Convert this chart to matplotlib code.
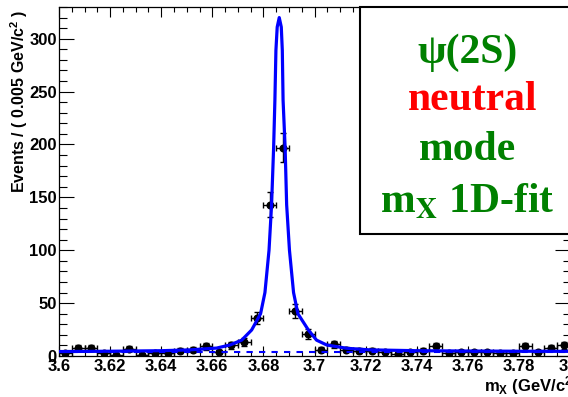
import matplotlib
matplotlib.use('Agg')
import matplotlib.pyplot as plt
from matplotlib.patches import Rectangle
from matplotlib.ticker import MultipleLocator, FixedLocator, FixedFormatter

plt.rcParams['font.family'] = ['Liberation Sans', 'DejaVu Sans']
plt.rcParams['font.weight'] = 'bold'
plt.rcParams['mathtext.fontset'] = 'custom'
plt.rcParams['mathtext.rm'] = 'Liberation Sans:bold'
plt.rcParams['mathtext.it'] = 'Liberation Sans:italic:bold'
plt.rcParams['mathtext.bf'] = 'Liberation Sans:bold'

# ---- data ----
bin_centers = [3.6025, 3.6075, 3.6125, 3.6175, 3.6225, 3.6275, 3.6325, 3.6375,
               3.6425, 3.6475, 3.6525, 3.6575, 3.6625, 3.6675, 3.6725, 3.6775,
               3.6825, 3.6875, 3.6925, 3.6975, 3.7025, 3.7075, 3.7125, 3.7175,
               3.7225, 3.7275, 3.7325, 3.7375, 3.7425, 3.7475, 3.7525, 3.7575,
               3.7625, 3.7675, 3.7725, 3.7775, 3.7825, 3.7875, 3.7925, 3.7975]
counts = [3, 8, 8, 3, 1, 7, 1, 3,
          3, 5, 6, 9, 4, 10, 13, 36,
          143, 197, 43, 21, 6, 11, 6, 5,
          5, 4, 2, 4, 5, 9, 3, 4,
          4, 4, 3, 3, 9, 4, 8, 10]
count_err = [1.7, 2.8, 2.8, 1.7, 1.0, 2.6, 1.0, 1.7,
             1.7, 2.2, 2.4, 3.0, 2.0, 3.2, 3.6, 6.0,
             12.0, 14.0, 6.6, 4.6, 2.4, 3.3, 2.4, 2.2,
             2.2, 2.0, 1.4, 2.0, 2.2, 3.0, 1.7, 2.0,
             2.0, 2.0, 1.7, 1.7, 3.0, 2.0, 2.8, 3.2]
half_bin = 0.0025

# fit curve (signal + background)
fit_x = [3.600, 3.620, 3.640, 3.6513, 3.6617, 3.6669, 3.6715, 3.6754, 3.6789,
         3.6806, 3.6822, 3.6832, 3.6840, 3.6845, 3.6849, 3.6854, 3.6862,
         3.6870, 3.6874, 3.6877, 3.6885, 3.6891, 3.6902, 3.6918, 3.6935,
         3.6976, 3.7008, 3.7048, 3.7126, 3.7217, 3.740, 3.760, 3.780, 3.800]
fit_y = [4.2, 4.5, 5.0, 5.8, 7.5, 10.4, 15, 24.6, 40,
         60, 100, 143, 197, 242, 289, 311, 320,
         311, 289, 242, 197, 143, 100, 60, 40,
         24.6, 15, 10.4, 7.3, 5.8, 5.0, 4.7, 4.5, 4.4]
bkg_x = [3.6, 3.8]
bkg_y = [3.8, 3.8]

x_ticks = [3.6, 3.62, 3.64, 3.66, 3.68, 3.7, 3.72, 3.74, 3.76, 3.78, 3.8]
x_tick_labels = ['3.6', '3.62', '3.64', '3.66', '3.68', '3.7', '3.72', '3.74',
                 '3.76', '3.78', '3.8']
y_ticks = [0, 50, 100, 150, 200, 250, 300]
y_tick_labels = ['0', '50', '100', '150', '200', '250', '300']

box_lines = ['\u03c8(2S)', 'neutral', 'mode', r'm$_{\mathbf{X}}$ 1D-fit']
box_colors = ['#008000', '#ff0000', '#008000', '#008000']

# ---- figure ----
fig = plt.figure(figsize=(5.68, 3.97), dpi=100)
ax = fig.add_axes([59 / 568, 41 / 397, 511 / 568, 349 / 397])

ax.errorbar(bin_centers, counts, xerr=half_bin, yerr=count_err, fmt='o',
            color='black', ms=4.8, elinewidth=1, capsize=2, capthick=1, zorder=3)
ax.plot(fit_x, fit_y, color='#0000ff', lw=2.3, zorder=4)
ax.plot(bkg_x, bkg_y, color='#0000ff', lw=1.5, ls=(0, (3, 3)), zorder=4)

ax.set_xlim(3.6, 3.8)
ax.set_ylim(0, 330)
ax.xaxis.set_major_locator(FixedLocator(x_ticks))
ax.xaxis.set_major_formatter(FixedFormatter(x_tick_labels))
ax.yaxis.set_major_locator(FixedLocator(y_ticks))
ax.yaxis.set_major_formatter(FixedFormatter(y_tick_labels))
ax.xaxis.set_minor_locator(MultipleLocator(0.005))
ax.yaxis.set_minor_locator(MultipleLocator(10))
ax.tick_params(which='both', direction='in', top=True, right=True, width=0.8,
               labelsize=12)
ax.tick_params(axis='x', which='major', length=7.5, pad=2.5)
ax.tick_params(axis='x', which='minor', length=3.8)
ax.tick_params(axis='y', which='major', length=10.8, pad=1.5)
ax.tick_params(axis='y', which='minor', length=5.4)
for s in ax.spines.values():
    s.set_linewidth(0.9)

fig.text(19 / 568, 1 - 10 / 397, r'Events / ( 0.005 GeV/c$^{2}$ )',
         rotation=90, ha='center', va='top', fontsize=11.5)
fig.text(578 / 568, 1 - 386 / 397, r'm$_{\mathrm{X}}$ (GeV/c$^{2}$)',
         ha='right', va='center', fontsize=12)

# text box
ax.add_patch(Rectangle((0.589, 0.3496), 0.45, 0.6504, transform=ax.transAxes,
                       facecolor='white', edgecolor='black', lw=1.5,
                       clip_on=False, zorder=6))
box_x = [0.7994, 0.8092, 0.7994, 0.7994]
box_y = [0.8395, 0.7049, 0.5616, 0.4126]
for txt, col, bx, by in zip(box_lines, box_colors, box_x, box_y):
    ax.text(bx, by, txt, transform=ax.transAxes, ha='center', va='baseline',
            color=col, fontsize=30, fontweight='bold',
            family=['Liberation Serif', 'DejaVu Serif'], math_fontfamily='stix',
            zorder=7)

fig.savefig('out.png', dpi=100)
